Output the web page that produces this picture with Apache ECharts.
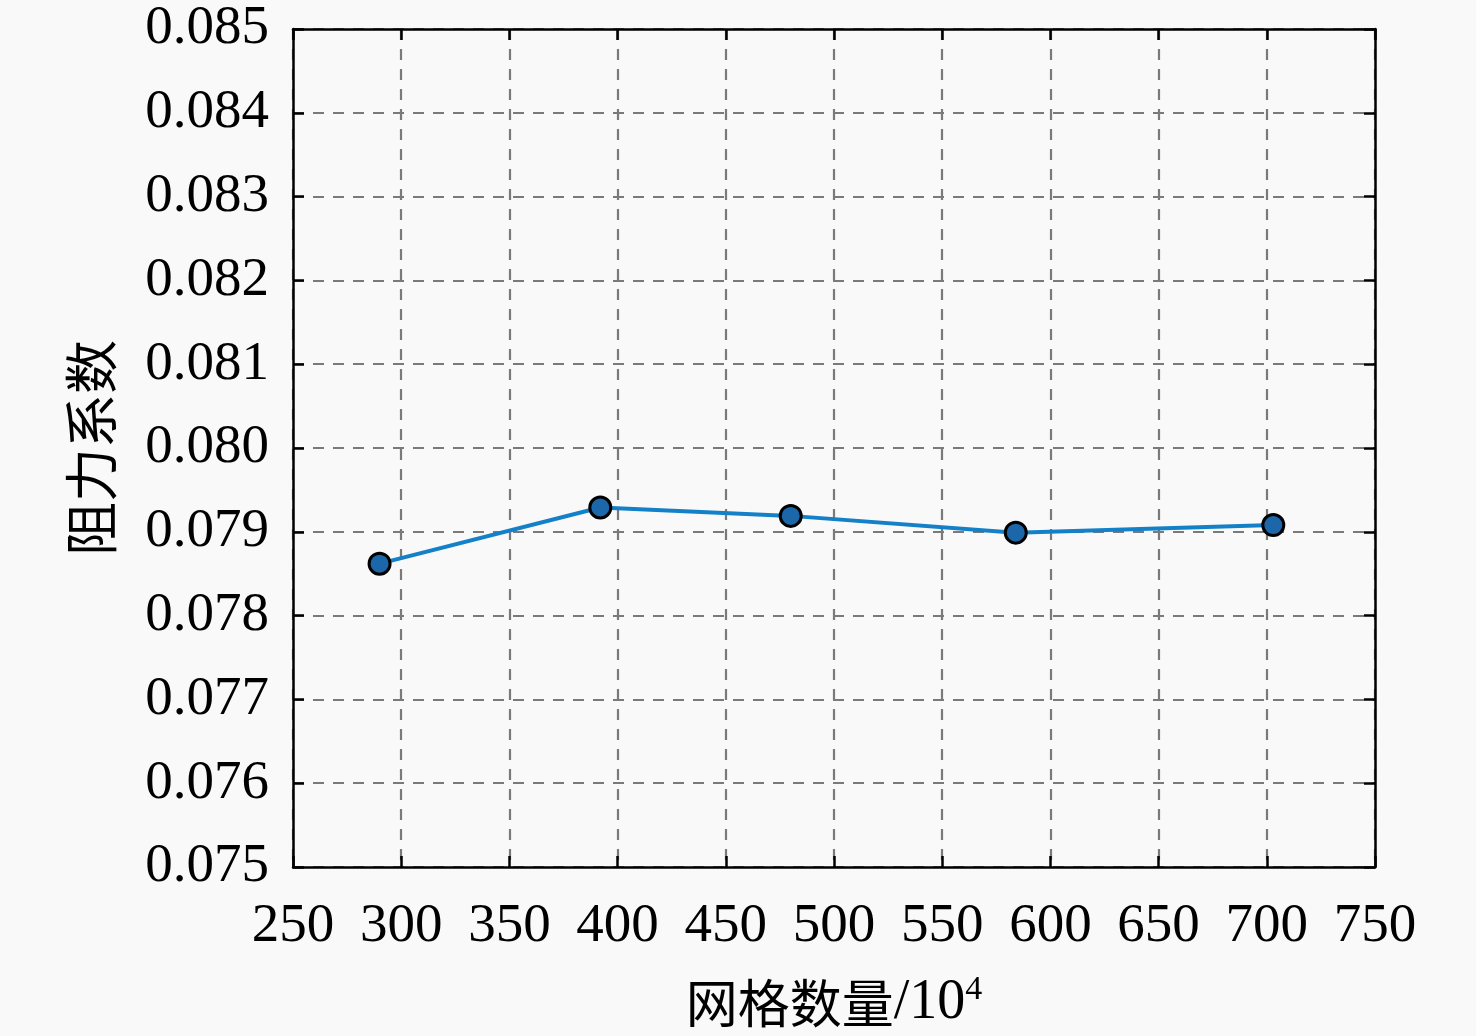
<!DOCTYPE html>
<html><head><meta charset="utf-8">
<script src="https://cdn.jsdelivr.net/npm/echarts@6/dist/echarts.min.js"></script>
<style>html,body{margin:0;padding:0;background:#f9f9f9}#c{width:1476px;height:1036px}</style>
</head><body><div id="c"></div>
<script>
const gridCounts = [290, 392, 480, 584, 703];
const dragCoef = [0.07862, 0.07929, 0.07919, 0.07899, 0.07908];
const xTitle = '网格数量';
const xUnit = '/10';
const xExp = '4';
const yName = '阻力系数';

const chart = echarts.init(document.getElementById('c'));
const serif = '"Liberation Serif","Times New Roman",serif';
const cjk = '"Noto Sans CJK SC",sans-serif';
const dashed = {show:true, lineStyle:{color:'#7a7a7a', type:[11,9], width:2.2}};
const axisLine = {show:true, onZero:false, lineStyle:{color:'#000', width:2.5}};
const tick = {show:true, inside:true, length:11, lineStyle:{color:'#000', width:2.5}};
chart.setOption({
  backgroundColor:'#f9f9f9',
  animation:false,
  grid:{left:293, right:101, top:29, bottom:167, containLabel:false},
  xAxis:[{
    type:'value', min:250, max:750, interval:50, position:'bottom',
    axisLine, axisTick:tick, splitLine:dashed,
    axisLabel:{color:'#000', fontFamily:serif, fontSize:55, margin:32},
    name: '{a|' + xTitle + '}{b|' + xUnit + '}{s|' + xExp + '}',
    nameLocation:'middle', nameGap:106,
    nameTextStyle:{rich:{
      a:{fontFamily:cjk, fontSize:52, color:'#000'},
      b:{fontFamily:serif, fontSize:56, color:'#000'},
      s:{fontFamily:serif, fontSize:34, color:'#000', verticalAlign:'top', padding:[0,0,26,0]}
    }},
  },{
    type:'value', min:250, max:750, interval:50, position:'top',
    axisLine, axisTick:tick, splitLine:{show:false}, axisLabel:{show:false}
  }],
  yAxis:[{
    type:'value', min:0.075, max:0.085, interval:0.001, position:'left',
    axisLine, axisTick:tick, splitLine:dashed,
    axisLabel:{color:'#000', fontFamily:serif, fontSize:55, margin:24, formatter:v=>v.toFixed(3)},
    name: yName, nameLocation:'middle', nameGap:175, nameRotate:90,
    nameTextStyle:{fontFamily:cjk, fontSize:54, color:'#000'}
  },{
    type:'value', min:0.075, max:0.085, interval:0.001, position:'right',
    axisLine, axisTick:tick, splitLine:{show:false}, axisLabel:{show:false}
  }],
  series:[{
    type:'line', xAxisIndex:0, yAxisIndex:0,
    data: gridCounts.map((x,i)=>[x, dragCoef[i]]),
    symbol:'circle', symbolSize:21,
    lineStyle:{color:'#1380c8', width:4},
    itemStyle:{color:'#1c66aa', borderColor:'#000', borderWidth:3}
  }]
});
</script></body></html>
